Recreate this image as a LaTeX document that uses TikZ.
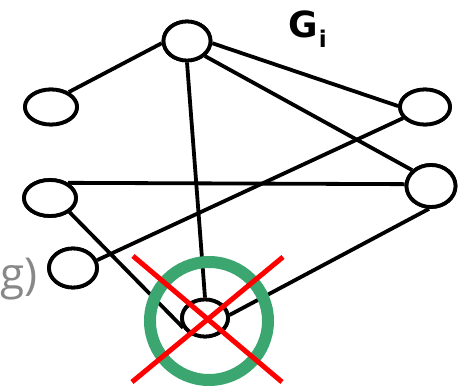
\documentclass[tikz,border=0pt]{standalone}
\usepackage{fontspec}
\setmainfont{Open Sans}
\newfontfamily\heavyfont{DejaVu Sans}
\usetikzlibrary{shapes.geometric}
\definecolor{ringgreen}{RGB}{59,166,111}
\definecolor{labelgray}{RGB}{136,136,136}
\begin{document}
\begin{tikzpicture}[x=1pt,y=-1pt,
  vert/.style={ellipse,draw=black,line width=3.8pt,fill=white,inner sep=0pt},
  edge/.style={draw=black,line width=3.8pt}]
\useasboundingbox (0,0) rectangle (466,387);
% vertices (placed first to name them)
\node[vert,minimum width=47pt,minimum height=39pt] (A) at (187,41) {};
\node[vert,minimum width=52pt,minimum height=35pt] (B) at (51,107) {};
\node[vert,minimum width=50pt,minimum height=35pt] (C) at (425,107) {};
\node[vert,minimum width=52pt,minimum height=36pt] (D) at (50,198) {};
\node[vert,minimum width=49pt,minimum height=42pt] (E) at (431,186) {};
\node[vert,minimum width=48pt,minimum height=39pt] (F) at (73,268) {};
\node[vert,minimum width=46pt,minimum height=37pt] (X) at (205,318) {};
% edges
\path[edge] (A.185) -- (B.40);
\path[edge] (A.355) -- (C.178);
\path[edge] (A.320) -- (E.140);
\path[edge] (A.south) -- (X.north);
\path[edge] (C.207) -- (F.18);
\path[edge] (D.40) -- (E.176);
\path[edge] (D.324) -- (X.204);
\path[edge] (E.265) -- (X.7);
% redraw vertices on top of edges
\node[vert,minimum width=47pt,minimum height=39pt] at (A) {};
\node[vert,minimum width=52pt,minimum height=35pt] at (B) {};
\node[vert,minimum width=50pt,minimum height=35pt] at (C) {};
\node[vert,minimum width=52pt,minimum height=36pt] at (D) {};
\node[vert,minimum width=49pt,minimum height=42pt] at (E) {};
\node[vert,minimum width=48pt,minimum height=39pt] at (F) {};
\node[vert,minimum width=46pt,minimum height=37pt] at (X) {};
% labels
\node[anchor=base west,inner sep=0pt] (G) at (288,38)
  {\heavyfont\fontsize{36}{36}\selectfont\bfseries G\hspace{1pt}\raisebox{-10pt}{\fontsize{23}{23}\selectfont i}};
\node[anchor=base east,inner sep=0pt,text=labelgray] (lbl) at (38,290)
  {\fontsize{44}{44}\selectfont g)};
% green ring and red cross
\node[circle,draw=ringgreen,line width=12pt,minimum size=118pt,inner sep=0pt] (ring) at (209,321) {};
\coordinate (r1) at (133,256);
\coordinate (r2) at (282,382);
\coordinate (r3) at (283,257);
\coordinate (r4) at (132,382);
\draw[red,line width=5pt] (r1) -- (r2);
\draw[red,line width=5pt] (r3) -- (r4);
\end{tikzpicture}
\end{document}
